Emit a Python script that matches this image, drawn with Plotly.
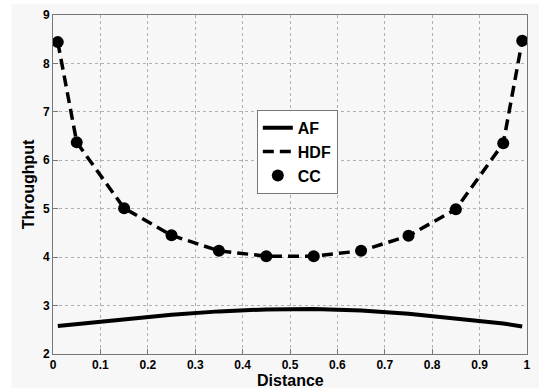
import plotly.graph_objects as go

distance = [0.01, 0.05, 0.15, 0.25, 0.35, 0.45, 0.55, 0.65, 0.75, 0.85, 0.95, 0.99]
af = [2.58, 2.62, 2.72, 2.81, 2.88, 2.92, 2.93, 2.90, 2.83, 2.74, 2.63, 2.57]
hdf = [8.44, 6.37, 5.01, 4.45, 4.13, 4.02, 4.02, 4.13, 4.44, 4.99, 6.35, 8.47]
cc = [8.44, 6.37, 5.01, 4.45, 4.13, 4.02, 4.02, 4.13, 4.44, 4.99, 6.35, 8.47]
x_ticks = [0, 0.1, 0.2, 0.3, 0.4, 0.5, 0.6, 0.7, 0.8, 0.9, 1]
x_labels = ["0", "0.1", "0.2", "0.3", "0.4", "0.5", "0.6", "0.7", "0.8", "0.9", "1"]
y_ticks = [2, 3, 4, 5, 6, 7, 8, 9]

fig = go.Figure()
fig.add_trace(go.Scatter(x=distance, y=af, mode="lines", name="AF",
                         line=dict(color="black", width=4)))
fig.add_trace(go.Scatter(x=distance, y=hdf, mode="lines", name="HDF",
                         line=dict(color="black", width=3.5, dash="11px,6px")))
fig.add_trace(go.Scatter(x=distance, y=cc, mode="markers", name="CC",
                         marker=dict(color="black", size=12)))

axis_common = dict(
    showline=True, linecolor="#777777", linewidth=1, mirror=True,
    showgrid=True, gridcolor="#b0b0b0", griddash="dot", gridwidth=1,
    ticks="inside", ticklen=5, tickcolor="#777777", zeroline=False,
    ticklabeloverflow="allow",
    tickfont=dict(family="Arial, Liberation Sans", size=12, color="black", weight="bold"),
)

fig.update_layout(
    width=539, height=388,
    margin=dict(l=53, r=8, t=13, b=34),
    paper_bgcolor="#f7f7f7", plot_bgcolor="#f7f7f7",
    font=dict(family="Arial, Liberation Sans", color="black"),
    xaxis=dict(range=[-0.0001, 1.0001], tickvals=x_ticks, ticktext=x_labels,
               **axis_common),
    yaxis=dict(range=[2, 9], tickvals=y_ticks,
               title=dict(text="<b>Throughput</b>", font=dict(size=16), standoff=4),
               **axis_common),
    legend=dict(x=0.43, y=0.72, xanchor="left", yanchor="top",
                bgcolor="white", bordercolor="#777777", borderwidth=1,
                font=dict(size=16, weight="bold"), itemwidth=30,
                tracegroupgap=0),
    showlegend=True,
    annotations=[dict(text="<b>Distance</b>", xref="paper", yref="paper",
                      x=0.5, y=0, xanchor="center", yanchor="middle",
                      yshift=-26, showarrow=False, font=dict(size=16))],
    shapes=[dict(type="rect", xref="paper", yref="paper", layer="below",
                 x0=-0.2, x1=-0.088, y0=-0.2, y1=1.2,
                 fillcolor="white", line=dict(width=0)),
            dict(type="rect", xref="paper", yref="paper", layer="below",
                 x0=-0.2, x1=1.2, y0=1.033, y1=1.2,
                 fillcolor="white", line=dict(width=0))],
)

fig.write_html("out.html", config={"displayModeBar": False},
               post_script="document.body.style.margin='0';document.body.style.padding='0';")
